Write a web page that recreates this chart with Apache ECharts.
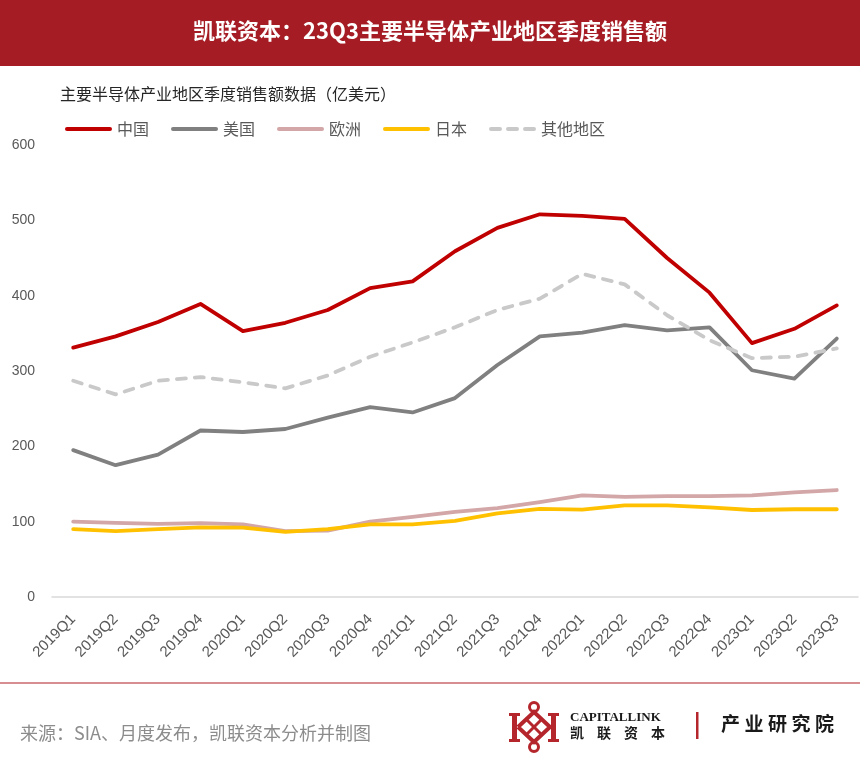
<!DOCTYPE html>
<html>
<head>
<meta charset="utf-8">
<script src="https://cdn.jsdelivr.net/npm/echarts@6/dist/echarts.min.js"></script>
<style>
html,body{margin:0;padding:0;background:#fff;}
#chart{width:860px;height:774px;}
</style>
</head>
<body>
<div id="chart"></div>
<script>
var categories = ['2019Q1','2019Q2','2019Q3','2019Q4','2020Q1','2020Q2','2020Q3','2020Q4','2021Q1','2021Q2','2021Q3','2021Q4','2022Q1','2022Q2','2022Q3','2022Q4','2023Q1','2023Q2','2023Q3'];
var china  = [331, 346, 365, 389, 353, 364, 381, 410, 419, 459, 490, 508, 506, 502, 450, 404, 337, 356, 387];
var usa    = [195, 175, 189, 221, 219, 223, 238, 252, 245, 264, 308, 346, 351, 361, 354, 358, 301, 290, 343];
var europe = [100, 98.5, 97, 98, 96.5, 87.5, 88, 100, 106.5, 113, 118, 126, 135, 133, 134, 134, 135, 139, 142];
var japan  = [90, 87.5, 90, 92.5, 92, 86.5, 90, 96.5, 96.5, 101, 111, 117, 116, 121.5, 121.5, 119, 115.5, 116.5, 116.5];
var others = [287, 269, 287, 292, 285, 277, 294, 319, 338, 358, 381, 396, 429, 415, 374, 341, 317, 319, 330];
var yTicks = { min: 0, max: 600, interval: 100 };
var seriesNames = ['中国', '美国', '欧洲', '日本', '其他地区'];
var titleText = '凯联资本：23Q3主要半导体产业地区季度销售额';
var subtitleText = '主要半导体产业地区季度销售额数据（亿美元）';
var sourceText = '来源：SIA、月度发布，凯联资本分析并制图';

var chart = echarts.init(document.getElementById('chart'));
var cjk = '"Noto Sans CJK SC", "Liberation Sans", sans-serif';
var num = '"Liberation Sans", Arial, sans-serif';

var instChars = '产业研究院'.split('');
var instGraphics = instChars.map(function (c, i) {
  return {
    type: 'text', left: 721 + i * 23.5, top: 714,
    style: { text: c, font: 'bold 19px "Noto Sans CJK SC"', fill: '#1a1a1a' }
  };
});
var brandChars = '凯联资本'.split('');
var brandGraphics = brandChars.map(function (c, i) {
  return {
    type: 'text', left: 570 + i * 27, top: 726,
    style: { text: c, font: 'bold 14px "Noto Sans CJK SC"', fill: '#1a1a1a' }
  };
});

function mkSeries(name, data, color, dashed) {
  return {
    name: name, type: 'line', data: data, symbol: 'none', smooth: false,
    lineStyle: { color: color, width: 3.8, type: dashed ? [9, 9] : 'solid', cap: 'round', join: 'round' },
    itemStyle: { color: color },
    emphasis: { disabled: true }
  };
}

var solidIcon = 'path://M2,0 L45,0 A2,2 0 0 1 45,4 L2,4 A2,2 0 0 1 2,0 Z';
var dashIcon = 'path://M2,0 L11,0 A2,2 0 0 1 11,4 L2,4 A2,2 0 0 1 2,0 Z M19,0 L28,0 A2,2 0 0 1 28,4 L19,4 A2,2 0 0 1 19,0 Z M36,0 L45,0 A2,2 0 0 1 45,4 L36,4 A2,2 0 0 1 36,0 Z';
var legendData = seriesNames.map(function (n, i) {
  return { name: n, icon: i === 4 ? dashIcon : solidIcon };
});

var logoRed = '#B5252C';
var option = {
  animation: false,
  backgroundColor: '#ffffff',
  grid: { left: 52, right: 2, top: 145, bottom: 177 },
  legend: {
    data: legendData, left: 65, top: 121, padding: 0, itemWidth: 47, itemHeight: 4, itemGap: 22,
    textStyle: { fontFamily: cjk, fontSize: 16, color: '#595959' }
  },
  xAxis: {
    type: 'category', data: categories, boundaryGap: true,
    axisLine: { lineStyle: { color: '#d9d9d9', width: 1.5 } },
    axisTick: { show: false },
    axisLabel: { interval: 0, rotate: 45, margin: 20, fontFamily: num, fontSize: 15, color: '#595959' },
    splitLine: { show: false }
  },
  yAxis: {
    type: 'value', min: yTicks.min, max: yTicks.max, interval: yTicks.interval,
    axisLine: { show: false }, axisTick: { show: false }, splitLine: { show: false },
    axisLabel: { margin: 17, fontFamily: num, fontSize: 14, color: '#595959' }
  },
  series: [
    mkSeries(seriesNames[0], china, '#C00000'),
    mkSeries(seriesNames[1], usa, '#808080'),
    mkSeries(seriesNames[2], europe, '#D3A6A7'),
    mkSeries(seriesNames[3], japan, '#FFC000'),
    mkSeries(seriesNames[4], others, '#C9C9C9', true)
  ],
  graphic: [
    { type: 'rect', left: 0, top: 0, shape: { width: 860, height: 66 }, style: { fill: '#A51C24' } },
    { type: 'text', left: 'center', top: 20, style: { text: titleText, font: 'bold 22px "Noto Sans CJK SC"', fill: '#ffffff' } },
    { type: 'text', left: 60, top: 86, style: { text: subtitleText, font: '16px "Noto Sans CJK SC"', fill: '#262626' } },
    { type: 'line', shape: { x1: 0, y1: 683, x2: 860, y2: 683 }, style: { stroke: '#C8696B', lineWidth: 1.5 } },
    { type: 'text', left: 20, top: 724, style: { text: sourceText, font: '18px "Noto Sans CJK SC"', fill: '#8c8c8c' } },
    // logo
    { type: 'rect', shape: { x: 512, y: 713, width: 5, height: 29 }, style: { fill: logoRed } },
    { type: 'rect', shape: { x: 551, y: 713, width: 5, height: 29 }, style: { fill: logoRed } },
    { type: 'rect', shape: { x: 509, y: 713, width: 11, height: 3 }, style: { fill: logoRed } },
    { type: 'rect', shape: { x: 509, y: 739, width: 11, height: 3 }, style: { fill: logoRed } },
    { type: 'rect', shape: { x: 548, y: 713, width: 11, height: 3 }, style: { fill: logoRed } },
    { type: 'rect', shape: { x: 548, y: 739, width: 11, height: 3 }, style: { fill: logoRed } },
    { type: 'polyline', shape: { points: [[518, 727], [534, 712], [550, 727], [534, 742], [518, 727]] }, style: { stroke: logoRed, lineWidth: 4, fill: null } },
    { type: 'line', shape: { x1: 526, y1: 719, x2: 542, y2: 735 }, style: { stroke: logoRed, lineWidth: 3 } },
    { type: 'line', shape: { x1: 542, y1: 719, x2: 526, y2: 735 }, style: { stroke: logoRed, lineWidth: 3 } },
    { type: 'circle', shape: { cx: 534, cy: 707, r: 4.5 }, style: { stroke: logoRed, lineWidth: 3, fill: null } },
    { type: 'circle', shape: { cx: 534, cy: 747, r: 4.5 }, style: { stroke: logoRed, lineWidth: 3, fill: null } },
    { type: 'text', left: 570, top: 711, style: { text: 'CAPITALLINK', font: 'bold 13px "Liberation Serif", serif', fill: '#1a1a1a' } },
    { type: 'rect', shape: { x: 696, y: 712, width: 2.5, height: 27 }, style: { fill: '#B5252C' } }
  ].concat(brandGraphics).concat(instGraphics)
};
chart.setOption(option);
</script>
</body>
</html>
